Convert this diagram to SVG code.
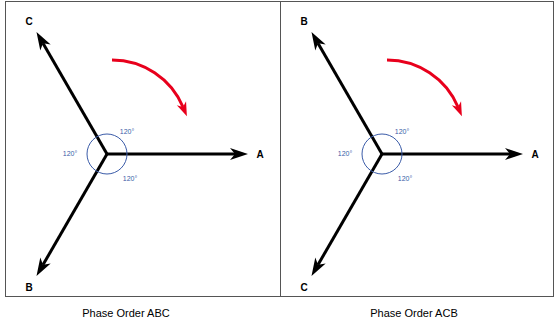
<svg xmlns="http://www.w3.org/2000/svg" width="555" height="323" viewBox="0 0 555 323">
<style>
.frame{fill:#fff;stroke:#555;stroke-width:1}
.vec{stroke:#000;stroke-width:3;fill:none;marker-end:url(#blk)}
.rot{stroke:#e8001c;stroke-width:3;fill:none;marker-end:url(#red)}
.ang{fill:none;stroke:#3a5ba8;stroke-width:1}
.lbl{font-family:"Liberation Sans",Arial,sans-serif;font-weight:bold;font-size:10px;fill:#000;text-anchor:middle}
.deg{font-family:"Liberation Sans",Arial,sans-serif;font-size:7px;fill:#3a5ba8;text-anchor:middle}
.cap{font-family:"Liberation Sans",Arial,sans-serif;font-size:11px;fill:#000;text-anchor:middle}
</style>
<defs>
<marker id="blk" markerUnits="userSpaceOnUse" markerWidth="20" markerHeight="14" refX="5" refY="6" orient="auto" overflow="visible">
<path d="M0,0 L18,6 L0,12 L5,6 Z" fill="#000"/>
</marker>
<marker id="red" markerUnits="userSpaceOnUse" markerWidth="16" markerHeight="12" refX="4" refY="5" orient="auto" overflow="visible">
<path d="M0,0 L14,5 L0,10 L4,5 Z" fill="#e8001c"/>
</marker>
</defs>
<g id="panel-abc">
<rect class="frame" x="5.5" y="1.5" width="275" height="295"/>
<g id="abc-connectors">
<line class="vec" x1="107" y1="154" x2="235" y2="154"/>
<line class="vec" x1="107" y1="154" x2="43" y2="43.2"/>
<line class="vec" x1="107" y1="154" x2="43" y2="264.8"/>
<path class="rot" d="M112,60 A77,77 0 0 1 183,107"/>
</g>
<g id="abc-angle">
<circle class="ang" cx="107" cy="154" r="20"/>
<text class="deg" x="127" y="133.5">120°</text>
<text class="deg" x="70" y="155.5">120°</text>
<text class="deg" x="130" y="180.5">120°</text>
</g>
<g id="abc-A"><text class="lbl" x="260" y="158">A</text></g>
<g id="abc-C"><text class="lbl" x="29" y="25">C</text></g>
<g id="abc-B"><text class="lbl" x="29" y="291">B</text></g>
<text class="cap" x="126" y="317">Phase Order ABC</text>
</g>
<g id="panel-acb">
<rect class="frame" x="280.5" y="1.5" width="273" height="295"/>
<g id="acb-connectors">
<line class="vec" x1="382" y1="154" x2="510" y2="154"/>
<line class="vec" x1="382" y1="154" x2="318" y2="43.2"/>
<line class="vec" x1="382" y1="154" x2="318" y2="264.8"/>
<path class="rot" d="M387,60 A77,77 0 0 1 458,107"/>
</g>
<g id="acb-angle">
<circle class="ang" cx="382" cy="154" r="20"/>
<text class="deg" x="402" y="133.5">120°</text>
<text class="deg" x="345" y="155.5">120°</text>
<text class="deg" x="405" y="180.5">120°</text>
</g>
<g id="acb-A"><text class="lbl" x="535" y="158">A</text></g>
<g id="acb-B"><text class="lbl" x="304" y="25">B</text></g>
<g id="acb-C"><text class="lbl" x="304" y="291">C</text></g>
<text class="cap" x="414" y="317">Phase Order ACB</text>
</g>
</svg>
